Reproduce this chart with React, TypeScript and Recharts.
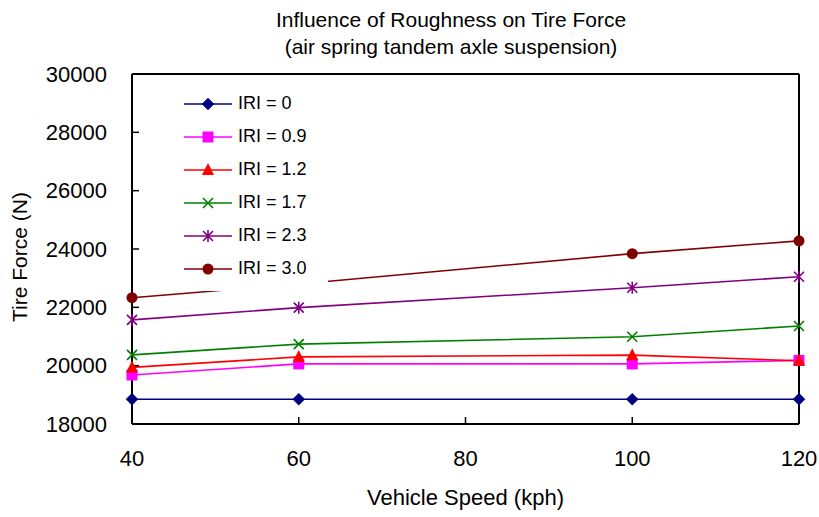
import {
  LineChart,
  Line,
  XAxis,
  YAxis,
  Legend,
  ReferenceLine,
  Label,
} from "recharts";

const speeds = [40, 60, 100, 120];
const iri0 = [18850, 18850, 18850, 18850];
const iri09 = [19680, 20060, 20060, 20180];
const iri12 = [19940, 20300, 20360, 20170];
const iri17 = [20370, 20740, 20990, 21360];
const iri23 = [21570, 21990, 22670, 23050];
const iri30 = [22330, 22800, 23840, 24280];

const xTicks = [40, 60, 80, 100, 120];
const yTicks = [18000, 20000, 22000, 24000, 26000, 28000, 30000];

type Marker = "diamond" | "square" | "triangle" | "x" | "star" | "circle";

const series: { key: string; name: string; color: string; marker: Marker; values: number[] }[] = [
  { key: "r0", name: "IRI = 0", color: "#000080", marker: "diamond", values: iri0 },
  { key: "r09", name: "IRI = 0.9", color: "#FF00FF", marker: "square", values: iri09 },
  { key: "r12", name: "IRI = 1.2", color: "#FF0000", marker: "triangle", values: iri12 },
  { key: "r17", name: "IRI = 1.7", color: "#008000", marker: "x", values: iri17 },
  { key: "r23", name: "IRI = 2.3", color: "#800080", marker: "star", values: iri23 },
  { key: "r30", name: "IRI = 3.0", color: "#800000", marker: "circle", values: iri30 },
];

const data = speeds.map((speed, i) => {
  const row: Record<string, number> = { speed };
  series.forEach((s) => {
    row[s.key] = s.values[i];
  });
  return row;
});

const FONT = "'Liberation Sans', Arial, sans-serif";

function MarkerShape({ type, cx, cy, color }: { type: Marker; cx: number; cy: number; color: string }) {
  switch (type) {
    case "diamond":
      return (
        <path
          d={`M${cx},${cy - 6} L${cx + 6},${cy} L${cx},${cy + 6} L${cx - 6},${cy} Z`}
          fill={color}
          stroke={color}
          strokeWidth={0.5}
        />
      );
    case "square":
      return <rect x={cx - 5.5} y={cy - 5.5} width={11} height={11} fill={color} />;
    case "triangle":
      return (
        <path
          d={`M${cx},${cy - 7} L${cx + 6},${cy + 5} L${cx - 6},${cy + 5} Z`}
          fill={color}
        />
      );
    case "x":
      return (
        <path
          d={`M${cx - 5},${cy - 5} L${cx + 5},${cy + 5} M${cx - 5},${cy + 5} L${cx + 5},${cy - 5}`}
          stroke={color}
          strokeWidth={1.6}
          fill="none"
        />
      );
    case "star":
      return (
        <path
          d={`M${cx - 5},${cy - 5} L${cx + 5},${cy + 5} M${cx - 5},${cy + 5} L${cx + 5},${cy - 5} M${cx},${cy - 6} L${cx},${cy + 6}`}
          stroke={color}
          strokeWidth={1.6}
          fill="none"
        />
      );
    default:
      return <circle cx={cx} cy={cy} r={5.5} fill={color} />;
  }
}

function makeDot(type: Marker, color: string) {
  return (props: any) => {
    const { cx, cy, index } = props;
    if (cx == null || cy == null) return <g key={`d-${index}`} />;
    return (
      <g key={`d-${index}`}>
        <MarkerShape type={type} cx={cx} cy={cy} color={color} />
      </g>
    );
  };
}

function LegendBox() {
  return (
    <div style={{ background: "#fff", paddingTop: 3, paddingBottom: 6 }}>
      {series.map((s) => (
        <div key={s.key} style={{ display: "flex", alignItems: "center", height: 33 }}>
          <svg width={56} height={20} style={{ display: "block" }}>
            <line x1={4} y1={10} x2={52} y2={10} stroke={s.color} strokeWidth={1.6} />
            <MarkerShape type={s.marker} cx={28} cy={10} color={s.color} />
          </svg>
          <span style={{ fontFamily: FONT, fontSize: 18, color: "#000", marginLeft: 2 }}>{s.name}</span>
        </div>
      ))}
    </div>
  );
}

export default function App() {
  return (
    <div style={{ position: "absolute", left: 0, top: 0, width: 819, height: 517, background: "#fff" }}>
      <div
        style={{
          position: "absolute",
          left: 0,
          top: 6,
          width: 902,
          textAlign: "center",
          fontFamily: FONT,
          fontSize: 21,
          lineHeight: "27px",
          color: "#000",
        }}
      >
        Influence of Roughness on Tire Force
        <br />
        (air spring tandem axle suspension)
      </div>
      <LineChart
        width={819}
        height={517}
        data={data}
        margin={{ top: 74, right: 20, bottom: 0, left: 0 }}
        style={{ position: "absolute", left: 0, top: 0 }}
      >
        <XAxis
          dataKey="speed"
          type="number"
          domain={[40, 120]}
          ticks={xTicks}
          height={93}
          tickSize={-7}
          tickMargin={33}
          axisLine={{ stroke: "#000", strokeWidth: 2 }}
          tickLine={{ stroke: "#000", strokeWidth: 1.5 }}
          tick={{ fill: "#000", fontSize: 22, fontFamily: FONT }}
        >
          <Label
            content={({ viewBox }: any) => (
              <text
                x={viewBox.x + viewBox.width / 2}
                y={505}
                textAnchor="middle"
                fontSize={22}
                fontFamily={FONT}
                fill="#000"
              >
                Vehicle Speed (kph)
              </text>
            )}
          />
        </XAxis>
        <YAxis
          type="number"
          domain={[18000, 30000]}
          ticks={yTicks}
          width={132}
          tickSize={-7}
          tickMargin={32}
          axisLine={{ stroke: "#000", strokeWidth: 2 }}
          tickLine={{ stroke: "#000", strokeWidth: 1.5 }}
          tick={{ fill: "#000", fontSize: 22, fontFamily: FONT }}
          interval={0}
        >
          <Label
            content={({ viewBox }: any) => {
              const cy = viewBox.y + viewBox.height / 2 + 8;
              return (
                <text
                  x={27}
                  y={cy}
                  transform={`rotate(-90, 27, ${cy})`}
                  textAnchor="middle"
                  fontSize={21}
                  fontFamily={FONT}
                  fill="#000"
                >
                  Tire Force (N)
                </text>
              );
            }}
          />
        </YAxis>
        <ReferenceLine y={30000} stroke="#000" strokeWidth={2} />
        <ReferenceLine x={120} stroke="#000" strokeWidth={2} />
        {series.map((s) => (
          <Line
            key={s.key}
            dataKey={s.key}
            name={s.name}
            stroke={s.color}
            strokeWidth={1.6}
            type="linear"
            dot={makeDot(s.marker, s.color)}
            activeDot={false}
            isAnimationActive={false}
          />
        ))}
        <Legend
          layout="vertical"
          align="center"
          verticalAlign="middle"
          content={() => <LegendBox />}
          wrapperStyle={{ left: 180, top: 84, width: 148, height: "auto" }}
        />
      </LineChart>
    </div>
  );
}
